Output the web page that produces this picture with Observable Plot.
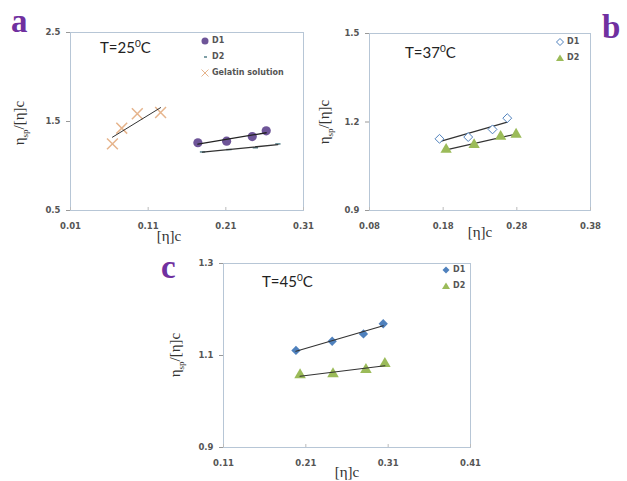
<!DOCTYPE html>
<html>
<head>
<meta charset="utf-8">
<script src="https://cdn.jsdelivr.net/npm/d3@7"></script>
<script src="https://cdn.jsdelivr.net/npm/@observablehq/plot@0.6"></script>
<style>
  html, body { margin: 0; padding: 0; background: #fff; }
  #wrap { position: relative; width: 627px; height: 481px; overflow: hidden; background: #fff; }
  .panel { position: absolute; }
  .lab { position: absolute; white-space: nowrap; }
  .letter { font-family: "Liberation Serif", "DejaVu Serif", serif; font-weight: bold; color: #7030a0; font-size: 33px; line-height: 1; }
  .temp { font-family: Lato, "Open Sans", sans-serif; font-size: 15px; color: #222; line-height: 1; }
  .temp sup { font-size: 10px; }
  .xt { font-family: "Liberation Serif", serif; font-size: 15px; color: #333; transform: translateX(-50%); line-height: 1; }
  .yt { font-family: "Liberation Serif", serif; font-size: 15px; color: #333; transform: translate(-50%, -50%) rotate(-90deg); line-height: 1; }
  .yt sub { font-size: 9px; }
  .leg { position: absolute; font-family: "DejaVu Sans", sans-serif; font-size: 8px; font-weight: bold; color: #555; line-height: 1; }
  .leg div { display: flex; align-items: center; height: 16px; }
  .leg svg { margin-right: 3px; overflow: visible; }
</style>
</head>
<body>
<div id="wrap"></div>
<script>
// ---- Panel a: T = 25 C ----
const aXTicks = [0.01, 0.11, 0.21, 0.31];
const aYTicks = [0.5, 1.5, 2.5];
const aD1X = [0.174, 0.211, 0.244, 0.262];
const aD1Y = [1.261, 1.279, 1.331, 1.395];
const aD2X = [0.180, 0.214, 0.248, 0.277];
const aD2Y = [1.158, 1.185, 1.205, 1.248];
const aGelX = [0.064, 0.076, 0.096, 0.126];
const aGelY = [1.249, 1.425, 1.587, 1.601];

// ---- Panel b: T = 37 C ----
const bXTicks = [0.08, 0.18, 0.28, 0.38];
const bYTicks = [0.9, 1.2, 1.5];
const bD1X = [0.175, 0.214, 0.247, 0.267];
const bD1Y = [1.143, 1.149, 1.175, 1.213];
const bD2X = [0.184, 0.222, 0.258, 0.279];
const bD2Y = [1.107, 1.123, 1.151, 1.158];

// ---- Panel c: T = 45 C ----
const cXTicks = [0.11, 0.21, 0.31, 0.41];
const cYTicks = [0.9, 1.1, 1.3];
const cD1X = [0.198, 0.242, 0.280, 0.304];
const cD1Y = [1.111, 1.131, 1.147, 1.169];
const cD2X = [0.203, 0.243, 0.283, 0.306];
const cD2Y = [1.058, 1.060, 1.069, 1.082];

const zip = (xs, ys) => xs.map((x, i) => ({x, y: ys[i]}));

const FRAME = "#b7c6d6";
const PURPLE = "#6e5598";
const TAN = "#e6b48c";
const TEAL = "#55808a";
const BLUE = "#4f81bd";
const GREEN = "#9bbb59";

const dash = { draw(ctx, size) { const w = Math.sqrt(size) / 2; ctx.moveTo(-w, 0); ctx.lineTo(w, 0); } };

function axes(xTicks, yTicks, xfmt, yfmt) {
  return [
    Plot.frame({stroke: FRAME}),
    Plot.axisY({ticks: yTicks, label: null, tickSize: 4, tickPadding: 6, tickFormat: yfmt, stroke: "#999", fill: "#555"}),
    Plot.axisX({ticks: xTicks, label: null, tickSize: -3, tickPadding: 15, tickFormat: xfmt, stroke: "#bbb", fill: "#555"})
  ];
}
const f1 = d => d.toFixed(1), f2 = d => d.toFixed(2);
const svgStyle = {fontFamily: "DejaVu Sans, sans-serif", fontSize: "8.5px", fontWeight: "bold", background: "transparent", overflow: "visible"};

function place(el, left, top) {
  el.classList.add("panel");
  el.style.left = left + "px";
  el.style.top = top + "px";
  document.getElementById("wrap").appendChild(el);
}
function label(cls, html, left, top) {
  const d = document.createElement("div");
  d.className = "lab " + cls;
  d.innerHTML = html;
  d.style.left = left + "px";
  d.style.top = top + "px";
  document.getElementById("wrap").appendChild(d);
}
function legend(items, left, top) {
  const d = document.createElement("div");
  d.className = "leg";
  d.style.left = left + "px";
  d.style.top = top + "px";
  d.innerHTML = items.map(([icon, text]) => `<div><svg width="8" height="8" viewBox="-4 -4 8 8">${icon}</svg><span>${text}</span></div>`).join("");
  document.getElementById("wrap").appendChild(d);
}

// Panel a
const A1 = zip(aD1X, aD1Y), A2 = zip(aD2X, aD2Y), AG = zip(aGelX, aGelY);
const pa = Plot.plot({
  width: 320, height: 250,
  marginLeft: 70, marginRight: 17, marginTop: 32, marginBottom: 40,
  style: svgStyle,
  x: {domain: [0.01, 0.31], axis: null},
  y: {domain: [0.5, 2.5], axis: null},
  marks: [
    ...axes(aXTicks, aYTicks, f2, f1),
    Plot.dot(AG, {x: "x", y: "y", symbol: "times", r: 5, stroke: TAN, strokeWidth: 1.5}),
    Plot.dot(A1, {x: "x", y: "y", symbol: "circle", r: 4.6, fill: PURPLE}),
    Plot.dot(A2, {x: "x", y: "y", symbol: dash, r: 3, stroke: TEAL, strokeWidth: 1.5}),
    Plot.linearRegressionY(AG, {x: "x", y: "y", ci: 0, stroke: "#333", strokeWidth: 1}),
    Plot.linearRegressionY(A1, {x: "x", y: "y", ci: 0, stroke: "#222", strokeWidth: 1.3}),
    Plot.linearRegressionY(A2, {x: "x", y: "y", ci: 0, stroke: "#333", strokeWidth: 1.3})
  ]
});
place(pa, 0, 0);

// Panel b
const B1 = zip(bD1X, bD1Y), B2 = zip(bD2X, bD2Y);
const pb = Plot.plot({
  width: 307, height: 250,
  marginLeft: 49, marginRight: 37, marginTop: 33, marginBottom: 40,
  style: svgStyle,
  x: {domain: [0.08, 0.38], axis: null},
  y: {domain: [0.9, 1.5], axis: null},
  marks: [
    ...axes(bXTicks, bYTicks, f2, f1),
    Plot.linearRegressionY(B1, {x: "x", y: "y", ci: 0, stroke: "#333", strokeWidth: 1.2}),
    Plot.linearRegressionY(B2, {x: "x", y: "y", ci: 0, stroke: "#333", strokeWidth: 1.2}),
    Plot.dot(B1, {x: "x", y: "y", symbol: "diamond2", r: 4, stroke: BLUE, fill: "white", strokeWidth: 1}),
    Plot.dot(B2, {x: "x", y: "y", symbol: "triangle", r: 4.2, fill: GREEN})
  ]
});
place(pb, 320, 0);

// Panel c
const C1 = zip(cD1X, cD1Y), C2 = zip(cD2X, cD2Y);
const pc = Plot.plot({
  width: 330, height: 231,
  marginLeft: 73, marginRight: 10, marginTop: 13, marginBottom: 34,
  style: svgStyle,
  x: {domain: [0.11, 0.41], axis: null},
  y: {domain: [0.9, 1.3], axis: null},
  marks: [
    ...axes(cXTicks, cYTicks, f2, f1),
    Plot.dot(C1, {x: "x", y: "y", symbol: "diamond2", r: 4.2, fill: BLUE}),
    Plot.dot(C2, {x: "x", y: "y", symbol: "triangle", r: 4.3, fill: GREEN}),
    Plot.linearRegressionY(C1, {x: "x", y: "y", ci: 0, stroke: "#333", strokeWidth: 1.2}),
    Plot.linearRegressionY(C2, {x: "x", y: "y", ci: 0, stroke: "#333", strokeWidth: 1.2})
  ]
});
place(pc, 150, 250);

// Texts
label("letter", "a", 11, 5);
label("letter", "b", 602, 11);
label("letter", "c", 161, 251);
label("temp", "T=25<sup>0</sup>C", 100, 38);
label("temp", "T=37<sup>0</sup>C", 405, 43);
label("temp", "T=45<sup>0</sup>C", 262, 272);
label("xt", "[η]c", 169, 229);
label("xt", "[η]c", 480, 225);
label("xt", "[η]c", 347, 465);
label("yt", "η<sub>sp</sub>/[η]c", 21, 123);
label("yt", "η<sub>sp</sub>/[η]c", 326, 122);
label("yt", "η<sub>sp</sub>/[η]c", 177, 355);

legend([
  [`<circle r="3.5" fill="${PURPLE}"/>`, "D1"],
  [`<path d="M-1,0H2" stroke="${TEAL}" stroke-width="1.5"/>`, "D2"],
  [`<path d="M-3.5,-3.5L3.5,3.5M-3.5,3.5L3.5,-3.5" stroke="${TAN}" stroke-width="1"/>`, "Gelatin solution"]
], 201, 33);
legend([
  [`<path d="M0,-3.5L3.5,0L0,3.5L-3.5,0Z" stroke="${BLUE}" fill="white"/>`, "D1"],
  [`<path d="M0,-3.5L4,3L-4,3Z" fill="${GREEN}"/>`, "D2"]
], 556, 34);
legend([
  [`<path d="M0,-3.5L3.5,0L0,3.5L-3.5,0Z" fill="${BLUE}"/>`, "D1"],
  [`<path d="M0,-3.5L4,3L-4,3Z" fill="${GREEN}"/>`, "D2"]
], 442, 262);
</script>
</body>
</html>
